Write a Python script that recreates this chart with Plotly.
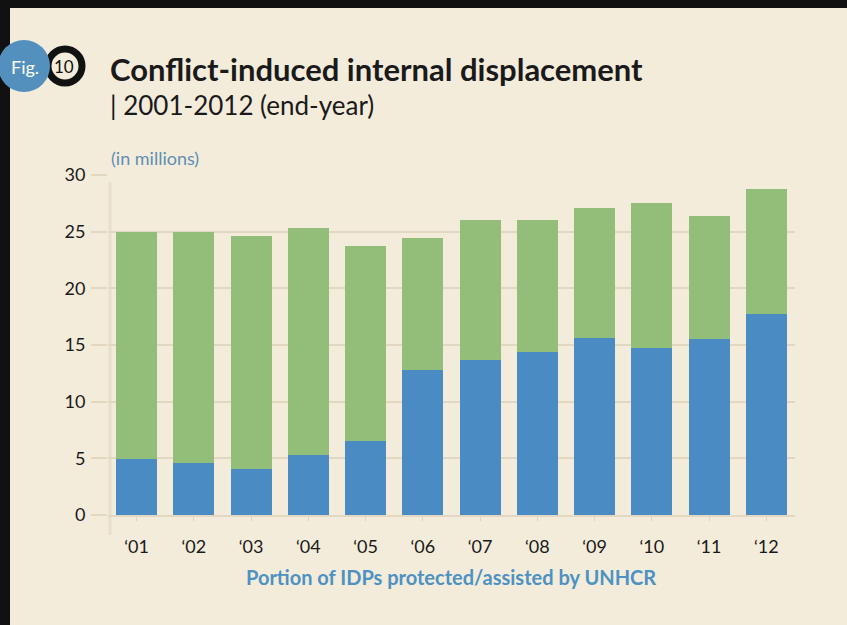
import plotly.graph_objects as go

years = ["‘01", "‘02", "‘03", "‘04", "‘05", "‘06", "‘07", "‘08", "‘09", "‘10", "‘11", "‘12"]
totals = [25.0, 25.0, 24.6, 25.3, 23.7, 24.4, 26.0, 26.0, 27.1, 27.5, 26.4, 28.8]
unhcr = [4.9, 4.6, 4.1, 5.3, 6.5, 12.8, 13.7, 14.4, 15.6, 14.7, 15.5, 17.7]
others = [round(t - u, 2) for t, u in zip(totals, unhcr)]

W, H = 847, 625
L, R, T, B = 108, 52, 175, 110
PW, PH = W - L - R, H - T - B

def px(x):
    return (x - L) / PW

def py(y):
    return (H - B - y) / PH

CREAM = "#F3ECDB"
BLUE = "#4A8BC4"
GREEN = "#92BE7A"
GRID = "#E2D8C2"

fig = go.Figure()
fig.add_trace(go.Bar(x=years, y=unhcr, marker_color=BLUE, marker_line_width=0,
                     name="Protected/assisted by UNHCR"))
fig.add_trace(go.Bar(x=years, y=others, marker_color=GREEN, marker_line_width=0,
                     name="Other IDPs"))

shapes = [
    dict(type="rect", xref="paper", yref="paper", x0=px(0), x1=px(W), y0=py(0), y1=py(8),
         fillcolor="#111111", line_width=0, layer="below"),
    dict(type="rect", xref="paper", yref="paper", x0=px(0), x1=px(10), y0=py(0), y1=py(H),
         fillcolor="#111111", line_width=0, layer="below"),
    dict(type="line", xref="paper", yref="paper", x0=px(110), x1=px(110), y0=py(182), y1=py(535),
         line=dict(color="#E8DFCB", width=3), layer="below"),
    dict(type="circle", xref="paper", yref="paper", x0=px(65 - 17), x1=px(65 + 17),
         y0=py(66 + 17), y1=py(66 - 17), fillcolor=CREAM, line=dict(color="#111111", width=7),
         layer="above"),
    dict(type="circle", xref="paper", yref="paper", x0=px(24 - 26), x1=px(24 + 26),
         y0=py(66 + 26), y1=py(66 - 26), fillcolor="#5390BE", line_width=0, layer="above"),
]

annotations = [
    dict(text="Fig.", x=px(25), y=py(67), xref="paper", yref="paper", showarrow=False,
         font=dict(family="Lato", size=18, color="white"), xanchor="center", yanchor="middle"),
    dict(text="10", x=px(64), y=py(66), xref="paper", yref="paper", showarrow=False,
         font=dict(family="Lato", size=17, color="#111111"), xanchor="center", yanchor="middle"),
    dict(text="<b>Conflict-induced internal displacement</b>", x=px(108), y=py(69),
         xref="paper", yref="paper", showarrow=False, xanchor="left", yanchor="middle",
         font=dict(family="Lato", size=31, color="#1a1a1a")),
    dict(text="| 2001-2012 (end-year)", x=px(108), y=py(105), xref="paper", yref="paper",
         showarrow=False, xanchor="left", yanchor="middle",
         font=dict(family="Lato", size=26, color="#1a1a1a")),
    dict(text="(in millions)", x=px(109), y=py(158), xref="paper", yref="paper",
         showarrow=False, xanchor="left", yanchor="middle",
         font=dict(family="Lato", size=18, color="#5F8FB3")),
    dict(text="<b>Portion of IDPs protected/assisted by UNHCR</b>", x=px(451), y=py(577),
         xref="paper", yref="paper", showarrow=False, xanchor="center", yanchor="middle",
         font=dict(family="Lato", size=20, color="#4D92C2")),
]

fig.update_layout(
    width=W, height=H,
    margin=dict(l=L, r=R, t=T, b=B),
    barmode="stack", bargap=0.28,
    paper_bgcolor=CREAM, plot_bgcolor=CREAM,
    showlegend=False,
    font=dict(family="Lato", size=18, color="#1a1a1a"),
    shapes=shapes, annotations=annotations,
    xaxis=dict(showgrid=False, showline=True, linecolor=GRID, linewidth=2,
               ticks="outside", ticklen=4, tickcolor="#DDD2BA", ticklabelstandoff=10,
               tickfont=dict(size=18, color="#1a1a1a")),
    yaxis=dict(range=[0, 30], dtick=5, showgrid=True, gridcolor=GRID, gridwidth=2,
               zeroline=False, showline=False,
               ticks="outside", ticklen=16, tickcolor=GRID, tickwidth=2,
               tickfont=dict(size=18, color="#1a1a1a"), ticklabelstandoff=2),
)

fig.write_html("out.html", config={"displayModeBar": False}, post_script=[
    "document.body.style.margin='0';document.body.style.padding='0';"
    "document.body.style.background='#111111';"
    "document.documentElement.style.background='#111111';"
])
